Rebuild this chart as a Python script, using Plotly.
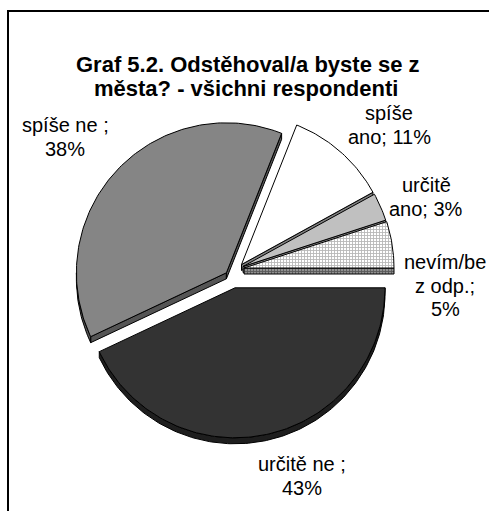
import numpy as np
import plotly.graph_objects as go

# ---------------- data ----------------
categories = ["určitě ne", "spíše ne", "spíše ano", "určitě ano", "nevím/bez odp."]
values = [43, 38, 11, 3, 5]
label_lines = [
    ["určitě ne ;", "43%"],
    ["spíše ne ;", "38%"],
    ["spíše", "ano; 11%"],
    ["určitě", "ano; 3%"],
    ["nevím/be", "z odp.;", "5%"],
]
title_line1 = "Graf 5.2. Odstěhoval/a byste se z"
title_line2 = "města? - všichni respondenti"

# ---------------- style ----------------
CX, CY, R, DEPTH = 233.0, 279.0, 150.0, 6.0
START_DEG = 0.0          # first slice starts at 3 o'clock, clockwise
EXPLODE = [(2.0, 8.8), (-6.6, -6.2), (8.5, -14.5), (10.0, -12.5), (11.0, -11.0)]
TOP = ["#333333", "#858585", "#ffffff", "#c0c0c0", "#ffffff"]
SIDE = ["#1e1e1e", "#555555", "#808080", "#8c8c8c", "#9a9a9a"]
TOP_PAT = [None, None, None, None,
           dict(shape="+", fgcolor="#707070", bgcolor="#ffffff", size=3, solidity=0.5)]
SIDE_PAT = [None, None, None, None,
            dict(shape="+", fgcolor="#202020", bgcolor="#909090", size=3, solidity=0.5)]
DRAW_ORDER = [1, 2, 3, 4, 0]
LABEL_POS = [(302, 464), (65, 125), (389, 113), (426, 185), (445, 262)]
LINE_GAP = 23.5
FONT = "Arial, Liberation Sans, sans-serif"

total = float(sum(values))
bounds = START_DEG + 360.0 * np.concatenate([[0], np.cumsum(values)]) / total

fig = go.Figure()


def poly(xs, ys, color, pattern=None):
    kw = dict(x=list(xs) + [xs[0]], y=list(ys) + [ys[0]], mode="lines", fill="toself",
              fillcolor=color, line=dict(color="black", width=1), hoverinfo="skip",
              showlegend=False)
    if pattern is not None:
        kw["fillpattern"] = pattern
    fig.add_trace(go.Scatter(**kw))


def arc(ax, ay, t1, t2, z=0.0):
    n = max(2, int(abs(t2 - t1)) + 2)
    t = np.radians(np.linspace(t1, t2, n))
    return ax + R * np.cos(t), ay + R * np.sin(t) + z


for i in DRAW_ORDER:
    t1, t2 = bounds[i], bounds[i + 1]
    ax, ay = CX + EXPLODE[i][0], CY + EXPLODE[i][1]
    # radial side faces
    for t, vis in ((t1, np.cos(np.radians(t1)) < -1e-9), (t2, np.cos(np.radians(t2)) > 1e-9)):
        if vis:
            px = ax + R * np.cos(np.radians(t))
            py = ay + R * np.sin(np.radians(t))
            poly([ax, px, px, ax], [ay, py, py + DEPTH, ay + DEPTH], SIDE[i], SIDE_PAT[i])
    # outer rim (front half)
    for lo, hi in ((0, 180), (360, 540)):
        a, b = max(t1, lo), min(t2, hi)
        if b > a:
            x1, y1 = arc(ax, ay, a, b)
            x2, y2 = arc(ax, ay, b, a, DEPTH)
            poly(np.concatenate([x1, x2]), np.concatenate([y1, y2]), SIDE[i], SIDE_PAT[i])
    # top face
    xa, ya = arc(ax, ay, t1, t2)
    poly(np.concatenate([[ax], xa]), np.concatenate([[ay], ya]), TOP[i], TOP_PAT[i])

ann = []
for i, lines in enumerate(label_lines):
    lx, ly = LABEL_POS[i]
    for k, s in enumerate(lines):
        ann.append(dict(x=lx, y=ly + k * LINE_GAP, xref="x", yref="y", text=s, showarrow=False,
                        xanchor="center", yanchor="middle",
                        font=dict(family=FONT, size=20, color="black")))
ann.append(dict(x=247.5, y=64, xref="x", yref="y", text="<b>" + title_line1 + "</b>",
                showarrow=False, xanchor="center", yanchor="middle",
                font=dict(family=FONT, size=22, color="black")))
ann.append(dict(x=246, y=88, xref="x", yref="y", text="<b>" + title_line2 + "</b>",
                showarrow=False, xanchor="center", yanchor="middle",
                font=dict(family=FONT, size=22, color="black")))

fig.update_layout(
    width=489, height=511, margin=dict(l=0, r=0, t=0, b=0),
    paper_bgcolor="white", plot_bgcolor="white", showlegend=False,
    xaxis=dict(range=[0, 489], visible=False, fixedrange=True),
    yaxis=dict(range=[511, 0], visible=False, fixedrange=True),
    annotations=ann,
    shapes=[dict(type="rect", xref="x", yref="y", x0=8, y0=11, x1=520, y1=540,
                 line=dict(color="black", width=2))],
)

fig.write_html("out.html", config={"displayModeBar": False},
               post_script="document.body.style.margin='0';document.body.style.overflow='hidden';")
